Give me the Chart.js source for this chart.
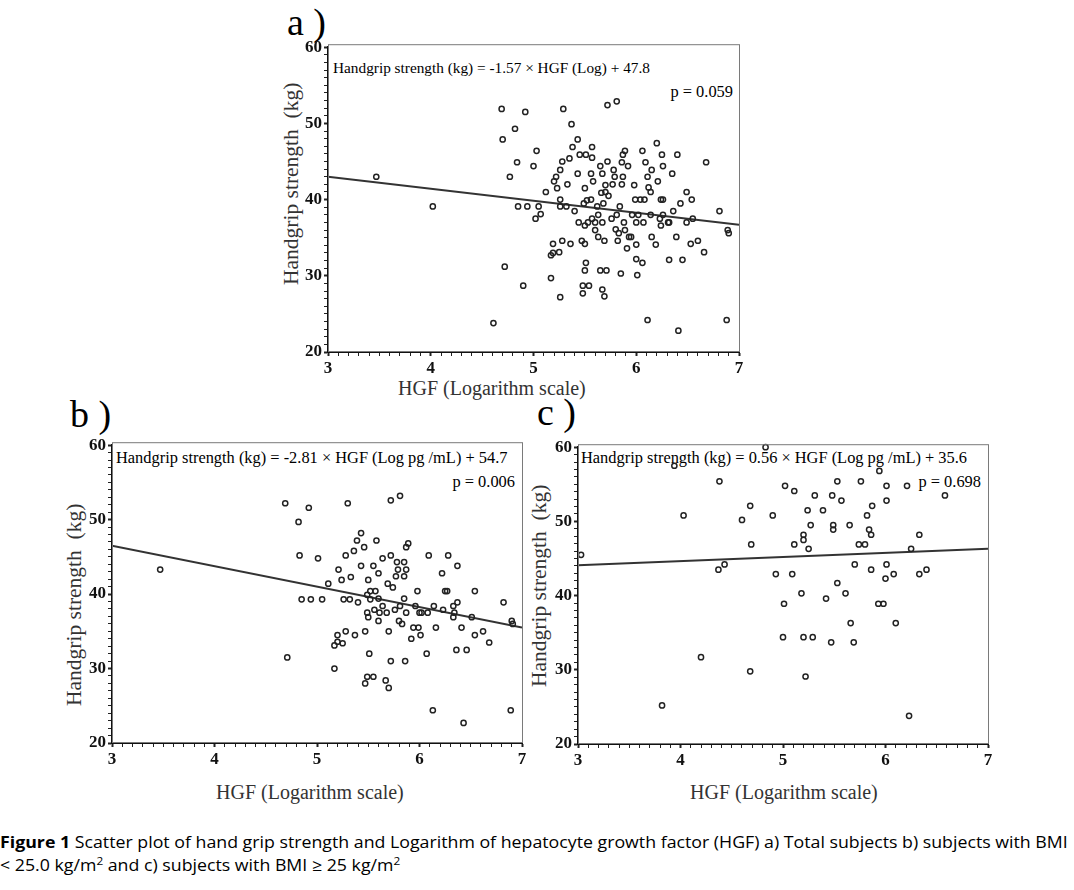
<!DOCTYPE html>
<html lang="en">
<head>
    <meta charset="UTF-8">
    <title>Figure 1 - Handgrip strength vs HGF</title>
    <script src="https://cdn.jsdelivr.net/npm/chart.js"></script>
    <style>
        body { margin: 0; background: #fff; width: 1074px; height: 890px; position: relative; overflow: hidden; }
        canvas { position: absolute; }
        .txt { position: absolute; white-space: nowrap; font-family: "Liberation Serif", "Times New Roman", serif; line-height: 1; color: #111; }
        .letter { font-size: 38px; color: #000; }
        .eq { font-size: 16.4px; color: #000; }
        .axt { font-size: 20px; color: #333; }
        .ytitle { font-size: 21.5px; transform-origin: 0 0; transform: rotate(-90deg); }
        #caption { position: absolute; left: 0; top: 830px; font-family: "Liberation Sans Narrow", "Open Sans", sans-serif; font-size: 16.5px; color: #000; line-height: 23px; }
        #caption div { white-space: nowrap; transform-origin: 0 0; }
        sup { font-size: 11px; line-height: 0; }
    </style>
</head>
<body>
    <!-- panel letters -->
    <div class="txt letter" style="left:287px; top:3px;">a )</div>
    <div class="txt letter" style="left:70px; top:395px;">b )</div>
    <div class="txt letter" style="left:537px; top:393px;">c )</div>

    <!-- regression equations -->
    <div class="txt eq" style="left:333px; top:60px; font-size:15.3px;">Handgrip strength (kg) = -1.57 × HGF (Log) + 47.8</div>
    <div class="txt eq" style="right:341px; top:84px;">p = 0.059</div>
    <div class="txt eq" style="left:116px; top:450px;">Handgrip strength (kg) = -2.81 × HGF (Log pg /mL) + 54.7</div>
    <div class="txt eq" style="right:559px; top:474px;">p = 0.006</div>
    <div class="txt eq" style="left:581px; top:450px;">Handgrip strength (kg) = 0.56 × HGF (Log pg /mL) + 35.6</div>
    <div class="txt eq" style="right:93px; top:474px;">p = 0.698</div>

    <!-- axis titles -->
    <div class="txt axt" style="left:398px; top:378px;">HGF (Logarithm scale)</div>
    <div class="txt axt ytitle" style="left:281px; top:285px;">Handgrip strength&nbsp; (kg)</div>
    <div class="txt axt" style="left:216px; top:782px;">HGF (Logarithm scale)</div>
    <div class="txt axt ytitle" style="left:64px; top:706px;">Handgrip strength&nbsp; (kg)</div>
    <div class="txt axt" style="left:690px; top:782px;">HGF (Logarithm scale)</div>
    <div class="txt axt ytitle" style="left:529px; top:687px;">Handgrip strength&nbsp; (kg)</div>

    <canvas id="chartA"></canvas>
    <canvas id="chartB"></canvas>
    <canvas id="chartC"></canvas>

    <div id="caption">
        <div id="capLine1"><b>Figure 1</b> Scatter plot of hand grip strength and Logarithm of hepatocyte growth factor (HGF) a) Total subjects b) subjects with BMI</div>
        <div id="capLine2">&lt; 25.0 kg/m<sup>2</sup> and c) subjects with BMI ≥ 25 kg/m<sup>2</sup></div>
    </div>

    <script>
        // axis ticks shared by all three panels
        const xTicks = [3, 4, 5, 6, 7];
        const yTicks = [20, 30, 40, 50, 60];

        // a) total subjects
        const aX = [
            3.47, 4.02, 4.61, 4.69, 4.70, 4.72, 4.77, 4.82, 4.84, 4.85,
            4.90, 4.92, 4.94, 5.00, 5.02, 5.03, 5.05, 5.07, 5.12, 5.17,
            5.17, 5.19, 5.19, 5.20, 5.22, 5.23, 5.25, 5.26, 5.26, 5.26,
            5.26, 5.28, 5.28, 5.29, 5.32, 5.33, 5.35, 5.36, 5.37, 5.38,
            5.40, 5.43, 5.43, 5.44, 5.45, 5.47, 5.48, 5.48, 5.49, 5.50,
            5.50, 5.50, 5.50, 5.51, 5.51, 5.52, 5.53, 5.54, 5.56, 5.56,
            5.57, 5.57, 5.58, 5.57, 5.60, 5.60, 5.62, 5.63, 5.63, 5.65,
            5.65, 5.66, 5.67, 5.67, 5.67, 5.68, 5.69, 5.69, 5.70, 5.70,
            5.71, 5.72, 5.72, 5.73, 5.76, 5.77, 5.78, 5.79, 5.80, 5.81,
            5.81, 5.82, 5.83, 5.84, 5.85, 5.86, 5.86, 5.87, 5.87, 5.88,
            5.89, 5.89, 5.91, 5.92, 5.93, 5.95, 5.96, 5.98, 5.99, 6.00,
            6.00, 6.00, 6.01, 6.02, 6.04, 6.06, 6.06, 6.07, 6.08, 6.09,
            6.11, 6.11, 6.12, 6.14, 6.14, 6.15, 6.15, 6.20, 6.19, 6.21,
            6.23, 6.24, 6.24, 6.25, 6.26, 6.26, 6.26, 6.31, 6.32, 6.32,
            6.35, 6.36, 6.40, 6.39, 6.41, 6.43, 6.45, 6.49, 6.49, 6.53,
            6.54, 6.55, 6.60, 6.66, 6.68, 6.81, 6.88, 6.89, 6.90
        ];
        const aY = [
            43.0, 39.1, 23.8, 51.9, 47.9, 31.2, 43.0, 49.3, 44.9, 39.1,
            28.7, 51.5, 39.1, 44.4, 37.5, 46.4, 39.1, 38.1, 41.0, 29.7,
            32.7, 34.2, 33.0, 42.4, 43.0, 41.5, 33.1, 40.0, 39.1, 27.2,
            43.9, 45.0, 34.6, 51.9, 39.1, 42.0, 45.4, 34.2, 49.9, 46.9,
            38.5, 47.9, 43.4, 37.0, 45.9, 34.6, 27.7, 28.7, 39.5, 41.5,
            36.6, 34.2, 30.7, 31.7, 45.9, 39.9, 37.0, 28.7, 43.4, 40.0,
            46.9, 45.5, 42.4, 37.5, 37.0, 36.0, 39.1, 38.0, 35.1, 44.4,
            30.7, 40.9, 37.0, 28.2, 43.4, 39.5, 34.6, 27.3, 41.9, 41.0,
            30.7, 45.0, 52.4, 40.5, 37.5, 42.0, 43.9, 43.0, 36.1, 52.9,
            38.0, 34.6, 35.6, 39.1, 30.3, 44.9, 42.0, 45.9, 43.0, 37.0,
            46.4, 36.0, 33.6, 44.4, 35.1, 35.1, 38.0, 41.9, 40.0, 32.2,
            37.0, 34.1, 30.1, 38.0, 40.0, 46.4, 31.7, 37.0, 40.0, 44.9,
            43.0, 24.2, 41.6, 38.0, 41.0, 35.1, 43.9, 47.4, 34.1, 42.4,
            37.5, 40.0, 36.6, 45.9, 44.4, 40.0, 38.0, 37.0, 32.1, 37.0,
            43.4, 38.5, 45.9, 35.1, 22.8, 39.5, 32.1, 41.0, 37.0, 34.2,
            40.0, 37.5, 34.6, 33.1, 44.9, 38.5, 24.2, 36.0, 35.6
        ];
        const aLineX = [3, 7];
        const aLineY = [43.0, 36.7];

        // b) BMI < 25
        const bX = [
            3.47, 4.69, 4.71, 4.82, 4.83, 4.85, 4.92, 4.94, 5.01, 5.05,
            5.11, 5.17, 5.17, 5.20, 5.20, 5.21, 5.24, 5.25, 5.26, 5.28,
            5.28, 5.30, 5.32, 5.33, 5.36, 5.37, 5.39, 5.40, 5.43, 5.43,
            5.46, 5.47, 5.47, 5.49, 5.49, 5.50, 5.50, 5.51, 5.52, 5.52,
            5.49, 5.55, 5.56, 5.55, 5.57, 5.58, 5.60, 5.60, 5.60, 5.61,
            5.64, 5.64, 5.67, 5.68, 5.69, 5.70, 5.70, 5.72, 5.72, 5.72,
            5.74, 5.76, 5.77, 5.78, 5.79, 5.80, 5.81, 5.81, 5.83, 5.85,
            5.85, 5.85, 5.86, 5.87, 5.87, 5.87, 5.89, 5.92, 5.94, 5.96,
            5.98, 5.99, 6.00, 6.01, 6.02, 6.07, 6.08, 6.09, 6.13, 6.14,
            6.16, 6.22, 6.23, 6.25, 6.27, 6.28, 6.33, 6.33, 6.34, 6.36,
            6.37, 6.37, 6.41, 6.43, 6.46, 6.51, 6.54, 6.54, 6.62, 6.68,
            6.82, 6.89, 6.90, 6.91
        ];
        const bY = [
            43.3, 52.2, 31.5, 49.7, 45.2, 39.3, 51.6, 39.3, 44.8, 39.3,
            41.4, 30.0, 33.1, 33.6, 34.5, 43.3, 41.9, 33.4, 39.3, 35.0,
            45.2, 52.2, 39.3, 42.3, 45.8, 34.5, 47.2, 38.9, 43.8, 48.2,
            46.3, 35.0, 28.0, 39.9, 37.5, 41.9, 36.9, 32.0, 40.4, 39.3,
            28.9, 28.9, 37.9, 43.8, 40.4, 47.2, 42.8, 39.4, 36.4, 37.5,
            38.4, 44.8, 28.4, 37.5, 41.4, 27.4, 35.0, 31.0, 45.2, 52.6,
            40.9, 37.9, 42.4, 44.3, 43.3, 36.4, 53.2, 38.4, 36.0, 42.4,
            44.3, 39.4, 31.0, 43.3, 37.5, 46.3, 46.8, 34.0, 35.5, 38.4,
            40.4, 35.5, 37.5, 34.5, 37.5, 32.0, 37.5, 45.2, 24.4, 38.4,
            35.5, 42.8, 37.9, 40.4, 40.4, 45.2, 36.9, 38.4, 37.5, 32.5,
            38.9, 43.8, 35.5, 22.7, 32.5, 36.9, 40.4, 34.5, 35.0, 33.5,
            38.9, 24.4, 36.4, 36.0
        ];
        const bLineX = [3, 7];
        const bLineY = [46.5, 35.5];

        // c) BMI >= 25
        const cX = [
            3.03, 3.82, 3.94, 4.03, 4.20, 4.37, 4.38, 4.43, 4.60, 4.68,
            4.69, 4.68, 4.83, 4.90, 4.93, 5.00, 5.01, 5.02, 5.09, 5.11,
            5.11, 5.18, 5.20, 5.20, 5.20, 5.22, 5.24, 5.25, 5.27, 5.29,
            5.31, 5.39, 5.42, 5.47, 5.48, 5.49, 5.49, 5.53, 5.53, 5.57,
            5.61, 5.65, 5.66, 5.69, 5.70, 5.74, 5.76, 5.80, 5.82, 5.84,
            5.86, 5.86, 5.87, 5.93, 5.94, 5.98, 6.00, 6.01, 6.01, 6.01,
            6.08, 6.10, 6.21, 6.23, 6.25, 6.33, 6.33, 6.40, 6.58
        ];
        const cY = [
            45.5, 25.2, 57.5, 50.8, 31.7, 43.5, 55.4, 44.2, 50.2, 52.1,
            46.9, 29.8, 60.0, 50.8, 42.9, 34.4, 38.9, 54.8, 42.9, 54.1,
            46.9, 40.3, 48.2, 47.5, 34.4, 29.1, 51.5, 46.3, 49.5, 34.4,
            53.5, 51.5, 39.6, 33.7, 53.5, 49.5, 48.9, 55.4, 41.7, 52.8,
            40.3, 49.5, 36.3, 33.7, 44.2, 46.9, 55.4, 46.9, 50.8, 48.9,
            48.2, 43.5, 52.1, 38.9, 56.8, 38.9, 42.3, 44.2, 54.8, 52.8,
            42.9, 36.3, 54.8, 23.8, 46.3, 42.9, 48.2, 43.5, 53.5
        ];
        const cLineX = [3, 7];
        const cLineY = [44.1, 46.3];

        // ticks with minor marks between the labelled ones
        function withMinor(major, parts) {
            const out = [];
            for (let i = 0; i < major.length; i++) {
                out.push({ value: major[i], major: true });
                if (i < major.length - 1) {
                    const step = (major[i + 1] - major[i]) / parts;
                    for (let k = 1; k < parts; k++) out.push({ value: major[i] + k * step, major: false });
                }
            }
            return out;
        }

        const framePlugin = {
            id: 'frame',
            afterDraw(chart) {
                const a = chart.chartArea, ctx = chart.ctx;
                ctx.save();
                ctx.strokeStyle = '#7a7a7a';
                ctx.lineWidth = 1;
                ctx.strokeRect(a.left + 0.5, a.top - 2.5, a.right - a.left, a.bottom - a.top + 2);
                ctx.restore();
            }
        };

        function makePanel(id, box, xs, ys, lx, ly) {
            const cv = document.getElementById(id);
            const w = box.r - box.l + 80, h = box.b - box.t + 50;
            cv.width = w; cv.height = h;
            cv.style.left = (box.l - 60) + 'px';
            cv.style.top = (box.t - 10) + 'px';
            cv.style.width = w + 'px'; cv.style.height = h + 'px';

            const pts = xs.map((x, i) => ({ x: x, y: ys[i] }));
            const fit = lx.map((x, i) => ({ x: x, y: ly[i] }));
            const tickFont = { family: '"Liberation Serif", "Times New Roman", serif', size: 17, weight: 'bold' };

            new Chart(cv.getContext('2d'), {
                type: 'scatter',
                data: {
                    datasets: [{
                        data: pts,
                        pointStyle: 'circle',
                        pointRadius: 2.6,
                        pointBorderWidth: 1.5,
                        pointBorderColor: '#222',
                        pointBackgroundColor: 'rgba(255,255,255,0)',
                        clip: false
                    }, {
                        data: fit,
                        showLine: true,
                        borderColor: '#333',
                        borderWidth: 2,
                        pointRadius: 0
                    }]
                },
                options: {
                    responsive: false,
                    animation: false,
                    devicePixelRatio: 1,
                    layout: { padding: { top: 10, right: 20, left: 0, bottom: 0 } },
                    plugins: { legend: { display: false }, tooltip: { enabled: false } },
                    scales: {
                        x: {
                            type: 'linear', min: xTicks[0], max: xTicks[xTicks.length - 1],
                            afterBuildTicks: s => { s.ticks = withMinor(xTicks, 10); },
                            afterFit: s => { s.height = 40; },
                            border: { display: true, color: '#111', width: 2 },
                            grid: { drawOnChartArea: false, drawTicks: true, tickLength: 4, tickColor: '#222',
                                    tickWidth: c => (c.tick && c.tick.major ? 2 : 1) },
                            ticks: { autoSkip: false, maxRotation: 0, padding: 2, color: '#111', font: tickFont,
                                     callback: (v, i, t) => (t[i].major ? v : '') }
                        },
                        y: {
                            type: 'linear', min: yTicks[0], max: yTicks[yTicks.length - 1],
                            afterBuildTicks: s => { s.ticks = withMinor(yTicks, 10); },
                            afterFit: s => { s.width = 60; },
                            border: { display: true, color: '#111', width: 2 },
                            grid: { drawOnChartArea: false, drawTicks: true, tickLength: 4, tickColor: '#222',
                                    tickWidth: c => (c.tick && c.tick.major ? 2 : 1) },
                            ticks: { autoSkip: false, padding: 2, color: '#111', font: tickFont,
                                     callback: (v, i, t) => (t[i].major ? v : '') }
                        }
                    }
                },
                plugins: [framePlugin]
            });
        }

        makePanel('chartA', { l: 328, t: 45, r: 739, b: 352 }, aX, aY, aLineX, aLineY);
        makePanel('chartB', { l: 112, t: 443, r: 522, b: 743 }, bX, bY, bLineX, bLineY);
        makePanel('chartC', { l: 578, t: 445, r: 988, b: 744 }, cX, cY, cLineX, cLineY);

        // squeeze the caption to the width of the original figure caption
        const l1 = document.getElementById('capLine1');
        const sc = 1068 / l1.scrollWidth;
        l1.style.transform = 'scaleX(' + sc + ')';
        document.getElementById('capLine2').style.transform = 'scaleX(' + sc + ')';
    </script>
</body>
</html>
